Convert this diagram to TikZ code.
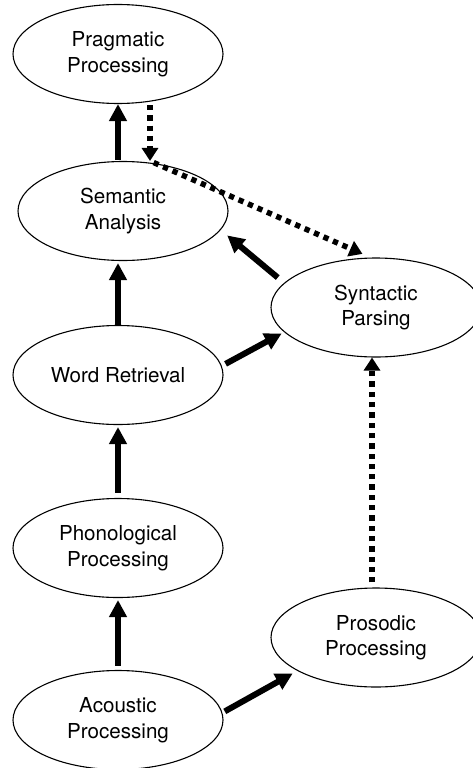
\documentclass[tikz,border=0pt]{standalone}
\usepackage{fontspec}
\setmainfont{TeX Gyre Heros}
\usetikzlibrary{shapes.geometric,arrows.meta}
\begin{document}
\begin{tikzpicture}[x=1pt,y=-1pt,
  proc/.style={ellipse,draw,line width=1.1pt,inner sep=0pt,minimum width=210pt,minimum height=99pt,align=center,font=\fontsize{20.6}{25.5}\selectfont},
  arr/.style={line width=6pt,-{Triangle[length=17pt,width=17pt]}},
  dotarr/.style={line width=5.5pt,dash pattern=on 5.3pt off 5pt,-{Triangle[length=13pt,width=16pt]}}
]
\clip (0,0) rectangle (473,768);
\node[proc] (prag) at (118,54) {Pragmatic\\Processing};
\node[proc] (sem) at (123,211) {Semantic\\Analysis};
\node[proc] (syn) at (376,307.5) {Syntactic\\Parsing};
\node[proc] (word) at (118,375) {Word Retrieval};
\node[proc] (phon) at (118,548) {Phonological\\Processing};
\node[proc] (pros) at (376,637.5) {Prosodic\\Processing};
\node[proc] (acou) at (118,720) {Acoustic\\Processing};

% solid vertical arrows
\draw[arr,shorten <=4pt,shorten >=2pt] (acou.north) -- (phon.south);
\draw[arr,shorten <=5pt,shorten >=2pt] (phon.north) -- (word.south);
\draw[arr,shorten >=2pt] (word.north) -- (word.north |- sem.south);
\draw[arr,shorten <=1pt] (prag.south |- sem.north) -- (prag.south);

% solid diagonal arrows
\draw[arr,shorten <=8.3pt,shorten >=8.5pt] (syn.165) -- (sem.349);
\draw[arr,shorten <=4.3pt,shorten >=2.7pt] (word.5) -- (syn.195);
\draw[arr,shorten <=2.7pt,shorten >=5.3pt] (acou.4) -- (pros.203);

% dotted arrows
\coordinate (pq) at ([xshift=32pt]prag.south);
\coordinate (dj) at (pq |- sem.north);
\draw[dotarr,shorten <=1pt] (pq) -- (dj);
\draw[dotarr,shorten <=4pt,shorten >=9pt] (dj) -- (syn.96);
\draw[dotarr,shorten <=5pt] ([xshift=-4pt]pros.north) -- ([xshift=-4pt]syn.south);
\end{tikzpicture}
\end{document}
